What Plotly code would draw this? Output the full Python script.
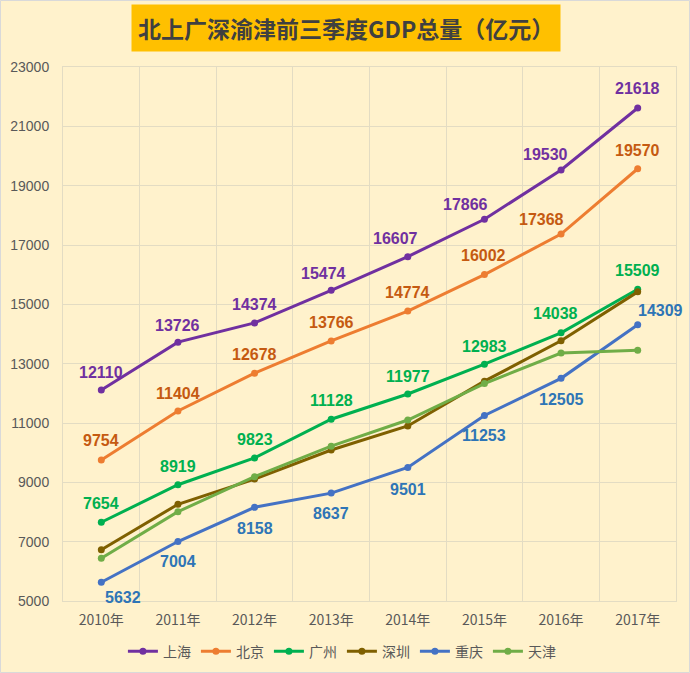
import plotly.graph_objects as go

years = ["2010年", "2011年", "2012年", "2013年", "2014年", "2015年", "2016年", "2017年"]
shanghai = [12110, 13726, 14374, 15474, 16607, 17866, 19530, 21618]
beijing = [9754, 11404, 12678, 13766, 14774, 16002, 17368, 19570]
guangzhou = [7654, 8919, 9823, 11128, 11977, 12983, 14038, 15509]
shenzhen = [6730, 8260, 9110, 10090, 10900, 12410, 13770, 15420]
chongqing = [5632, 7004, 8158, 8637, 9501, 11253, 12505, 14309]
tianjin = [6440, 8010, 9190, 10220, 11100, 12330, 13360, 13450]

title_text = "北上广深渝津前三季度GDP总量（亿元）"

NUM_FONT = "Liberation Sans, Noto Sans CJK SC, sans-serif"
CJK_FONT = "Noto Sans CJK SC, Liberation Sans, sans-serif"

# label pixel offsets (dx, dy with dy positive = up) per point, style only
shanghai_off = [(0, 18), (0, 17), (0, 18), (-8, 17), (-12, 18), (-19, 15), (-16, 15), (0, 20)]
beijing_off = [(0, 19), (0, 18), (0, 19), (0, 18), (0, 19), (-1, 19), (-20, 15), (0, 18)]
guangzhou_off = [(0, 19), (0, 18), (0, 18), (0, 19), (0, 18), (0, 18), (-6, 19), (0, 19)]
chongqing_off = [(22, -15), (0, -20), (0, -21), (0, -20), (0, -22), (0, -20), (0, -21), (23, 14)]

series = [
    ("上海", shanghai, "#7030A0", "#7030A0", shanghai_off),
    ("北京", beijing, "#ED7D31", "#C55A11", beijing_off),
    ("广州", guangzhou, "#00B050", "#00B050", guangzhou_off),
    ("深圳", shenzhen, "#7F6000", None, None),
    ("重庆", chongqing, "#4472C4", "#2E75B6", chongqing_off),
    ("天津", tianjin, "#70AD47", None, None),
]

fig = go.Figure()
for name, vals, lc, tc, offs in series:
    fig.add_trace(go.Scatter(
        x=years, y=vals, name=name, mode="lines+markers",
        line=dict(color=lc, width=3),
        marker=dict(color=lc, size=7),
        cliponaxis=False,
    ))
    if offs is not None:
        for xv, yv, (dx, dy) in zip(years, vals, offs):
            fig.add_annotation(
                x=xv, y=yv, text="<b>%d</b>" % yv, showarrow=False,
                xanchor="center", yanchor="middle", xshift=dx, yshift=dy,
                font=dict(family=NUM_FONT, size=16, color=tc),
            )

fig.add_annotation(
    xref="paper", yref="paper", x=0.4616, y=1.0721, xanchor="center", yanchor="middle",
    text="<b>" + title_text + "</b>", showarrow=False,
    font=dict(family=CJK_FONT, size=23, color="#404040"),
    bgcolor="#FFC000", borderpad=6,
)

grid = "#E3DCC3"
fig.update_layout(
    width=690, height=673,
    paper_bgcolor="#FFF2CC", plot_bgcolor="#FFF2CC",
    margin=dict(l=63, r=14, t=67, b=72, autoexpand=False),
    showlegend=True,
    legend=dict(orientation="h", x=0.455, xanchor="center", y=-0.095, yanchor="middle",
                font=dict(family=CJK_FONT, size=14, color="#595959"),
                itemwidth=30, bgcolor="rgba(0,0,0,0)"),
    xaxis=dict(type="category", tickson="boundaries", showgrid=True, gridcolor=grid,
               gridwidth=1, range=[-0.5, 7.5], ticks="", showline=True, linecolor=grid,
               mirror=True, automargin=False, ticklabelstandoff=6,
               tickfont=dict(family=CJK_FONT, size=14, color="#595959")),
    yaxis=dict(range=[5000, 23000], dtick=2000, tick0=5000, tickformat="d",
               showgrid=True, gridcolor=grid,
               gridwidth=1, zeroline=False, ticks="", showline=True, linecolor=grid, mirror=True,
               automargin=False, ticklabelstandoff=10,
               tickfont=dict(family=NUM_FONT, size=14, color="#595959")),
)

fig.add_shape(type="rect", xref="paper", yref="paper",
              x0=-62.5 / 613, x1=1 + 13.5 / 613, y0=-71.5 / 534, y1=1 + 66.5 / 534,
              line=dict(color="#D9D9D9", width=1), fillcolor="rgba(0,0,0,0)", layer="below")

fig.write_html("out.html", config={"displayModeBar": False},
               post_script="document.body.style.margin='0';document.body.style.overflow='hidden';")
